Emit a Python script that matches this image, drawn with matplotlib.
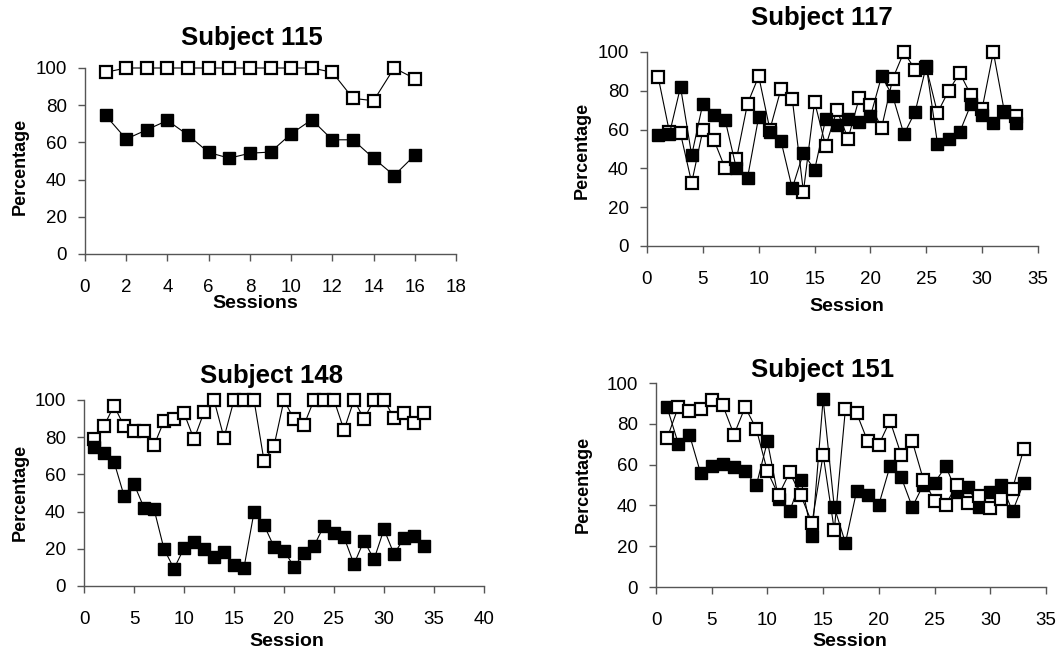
import numpy as np
import matplotlib.pyplot as plt

plt.rcParams['font.family'] = ['Liberation Sans', 'DejaVu Sans']

# Subject 115
s115 = np.arange(1, 17)
open115 = [97.7, 100, 100, 100, 100, 100, 100, 100, 100, 100, 100, 97.7, 83.7, 82.4, 100, 94.3]
fill115 = [74.5, 61.8, 66.8, 71.8, 63.9, 54.6, 51.5, 54.2, 54.8, 64.6, 72.2, 61.4, 61.4, 51.5, 42.2, 53.1]

# Subject 117
s117 = np.arange(1, 34)
open117 = [87.1, 59, 58, 32.6, 59.7, 54.5, 40, 44.6, 73.4, 87.5, 60, 81.1, 76, 28, 74.3,
           51.5, 70, 55.4, 76.3, 72.6, 61, 86.3, 100, 90.9, 92, 68.6, 80, 89.2, 77.7, 70.8,
           100, 69, 66.9]
fill117 = [57.1, 57.6, 82, 46.8, 73.4, 67.4, 64.8, 40, 35.2, 66.6, 58.8, 54, 29.7, 48, 39.1,
           65.7, 62.3, 65.7, 64, 66.9, 87.5, 77.2, 57.6, 69.1, 92.8, 52.8, 55.4, 58.8, 73.1, 67.4,
           63.5, 69.1, 63.5]

# Subject 148
s148 = np.arange(1, 35)
open148 = [78.9, 86, 97, 86, 83.5, 83.5, 75.6, 88.7, 89.8, 93, 78.9, 93.4, 100, 79.7, 100,
           100, 100, 67.4, 75.3, 100, 89.6, 86.6, 100, 100, 100, 83.9, 100, 89.8, 100, 100,
           90.5, 93.2, 87.5, 93.2]
fill148 = [74.9, 71.3, 66.8, 48.6, 54.8, 42.1, 41.4, 19.9, 9.3, 20.3, 23.5, 19.9, 15.4, 18.3, 11.3,
           9.9, 39.6, 32.8, 21.1, 19, 10.4, 17.6, 21.5, 32.4, 28.7, 26.2, 11.8, 24.4, 14.3, 30.5,
           17.2, 25.6, 26.9, 21.7]

# Subject 151
s151 = np.arange(1, 34)
open151 = [73, 88.2, 86.1, 87.3, 91.8, 89, 74.7, 88.2, 77.5, 56.7, 45, 56.2, 44.9, 31.4, 64.9,
           27.8, 87.3, 85.3, 71.4, 69.8, 81.5, 64.9, 71.4, 52.6, 42.3, 40.4, 50.2, 41.2, 44.8, 38.7,
           43.1, 48.2, 67.6]
fill151 = [88, 70.3, 74.7, 55.9, 59.2, 60.5, 58.8, 56.7, 49.8, 71.4, 43.1, 37.1, 52.6, 24.8, 92.2,
           39.2, 21.6, 46.9, 44.9, 40.4, 59.2, 53.9, 39.2, 50.2, 51, 59.2, 46.4, 48.9, 39.2, 46.4,
           50.2, 37.1, 51]

W, H = 1061, 654
fig = plt.figure(figsize=(W / 100, H / 100), dpi=100)


def px_axes(x0, x1, y_top, y_bot):
    return fig.add_axes([x0 / W, 1 - y_bot / H, (x1 - x0) / W, (y_bot - y_top) / H])


def panel(ax, s, op, fi, xmax, xstep, open_on_top=False):
    z_open, z_fill = (4, 3) if open_on_top else (3, 4)
    ax.plot(s, op, color='black', lw=0.8, marker='s', ms=8, mfc='white', mec='black',
            mew=1.6, clip_on=False, zorder=z_open)
    ax.plot(s, fi, color='black', lw=0.8, marker='s', ms=9, mfc='black', mec='black',
            clip_on=False, zorder=z_fill)
    ax.set_xlim(0, xmax)
    ax.set_ylim(0, 100)
    ax.set_xticks(np.arange(0, xmax + 1, xstep))
    ax.set_yticks(np.arange(0, 101, 20))
    for side in ['top', 'right']:
        ax.spines[side].set_visible(False)
    for side in ['left', 'bottom']:
        ax.spines[side].set_color('#555555')
        ax.spines[side].set_linewidth(1.0)
    ax.tick_params(direction='out', length=5, width=1, color='#555555', labelsize=13.5)
    ax.tick_params(axis='x', pad=13)
    ax.tick_params(axis='y', pad=8)


ax1 = px_axes(85, 456, 68, 254)
panel(ax1, s115, open115, fill115, 18, 2)
ax2 = px_axes(647, 1038, 52, 246)
panel(ax2, s117, open117, fill117, 35, 5)
ax3 = px_axes(84, 484, 400, 586)
panel(ax3, s148, open148, fill148, 40, 5)
ax4 = px_axes(656, 1046, 383, 587)
panel(ax4, s151, open151, fill151, 35, 5, open_on_top=True)

tkw = dict(fontsize=18.5, fontweight='bold', ha='center', va='center')
fig.text(252 / W, 1 - 38 / H, 'Subject 115', **tkw)
fig.text(822 / W, 1 - 18 / H, 'Subject 117', **tkw)
fig.text(272 / W, 1 - 376 / H, 'Subject 148', **tkw)
fig.text(823 / W, 1 - 370 / H, 'Subject 151', **tkw)

lkw = dict(fontsize=14, fontweight='bold', ha='center', va='center')
fig.text(255 / W, 1 - 304 / H, 'Sessions', **lkw)
fig.text(847 / W, 1 - 306 / H, 'Session', **lkw)
fig.text(287 / W, 1 - 642 / H, 'Session', **lkw)
fig.text(850 / W, 1 - 642 / H, 'Session', **lkw)
pkw = dict(fontsize=13, fontweight='bold', ha='center', va='center', rotation=90)
fig.text(20 / W, 1 - 166 / H, 'Percentage', **pkw)
fig.text(582 / W, 1 - 150 / H, 'Percentage', **pkw)
fig.text(20 / W, 1 - 492 / H, 'Percentage', **pkw)
fig.text(583 / W, 1 - 484 / H, 'Percentage', **pkw)

fig.savefig('out.png', dpi=100)
